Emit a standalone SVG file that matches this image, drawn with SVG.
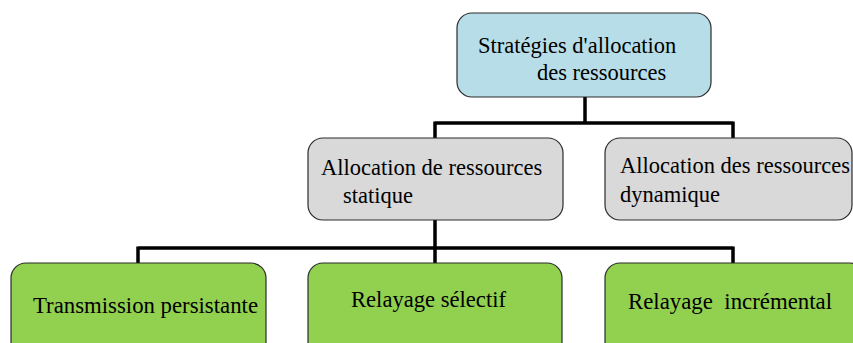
<svg xmlns="http://www.w3.org/2000/svg" width="853" height="343" viewBox="0 0 853 343">
<style>
.box{stroke:#2b2b2b;stroke-width:1.2}
.blue{fill:#B7DEE8}
.gray{fill:#D9D9D9}
.green{fill:#92D050}
text{font-family:"Liberation Serif","Times New Roman",serif;font-size:22.5px;fill:#000}
.big{font-size:23px}
.conn{fill:none;stroke:#000;stroke-width:3.5}
</style>
<rect width="853" height="343" fill="#fff"/>
<g id="connectors">
<path class="conn" d="M585 97 V123 M435 123 H733 M435 121.5 V138 M733 121.5 V138"/>
<path class="conn" d="M435 220 V248 M138 248 H733 M138 246.5 V263 M435 246.5 V263 M733 246.5 V263"/>
</g>
<g id="root">
<rect class="box blue" x="457" y="13" width="254" height="84" rx="15"/>
<text x="478" y="53">Stratégies d'allocation</text>
<text x="537" y="80">des ressources</text>
</g>
<g id="statique">
<rect class="box gray" x="308" y="138" width="255" height="82" rx="15"/>
<text x="321" y="175">Allocation de ressources</text>
<text x="343" y="203">statique</text>
</g>
<g id="dynamique">
<rect class="box gray" x="605" y="138" width="247" height="82" rx="15"/>
<text x="620" y="173">Allocation des ressources</text>
<text x="620" y="202">dynamique</text>
</g>
<g id="persistante">
<rect class="box green" x="11" y="263" width="255" height="95" rx="15"/>
<text class="big" x="33" y="313" textLength="225" lengthAdjust="spacingAndGlyphs">Transmission persistante</text>
</g>
<g id="selectif">
<rect class="box green" x="308" y="263" width="254" height="95" rx="15"/>
<text class="big" x="351" y="307" textLength="155" lengthAdjust="spacingAndGlyphs">Relayage sélectif</text>
</g>
<g id="incremental">
<rect class="box green" x="605" y="263" width="260" height="95" rx="15"/>
<text class="big" x="628" y="309" textLength="204" lengthAdjust="spacingAndGlyphs" style="white-space:pre">Relayage  incrémental</text>
</g>
</svg>
